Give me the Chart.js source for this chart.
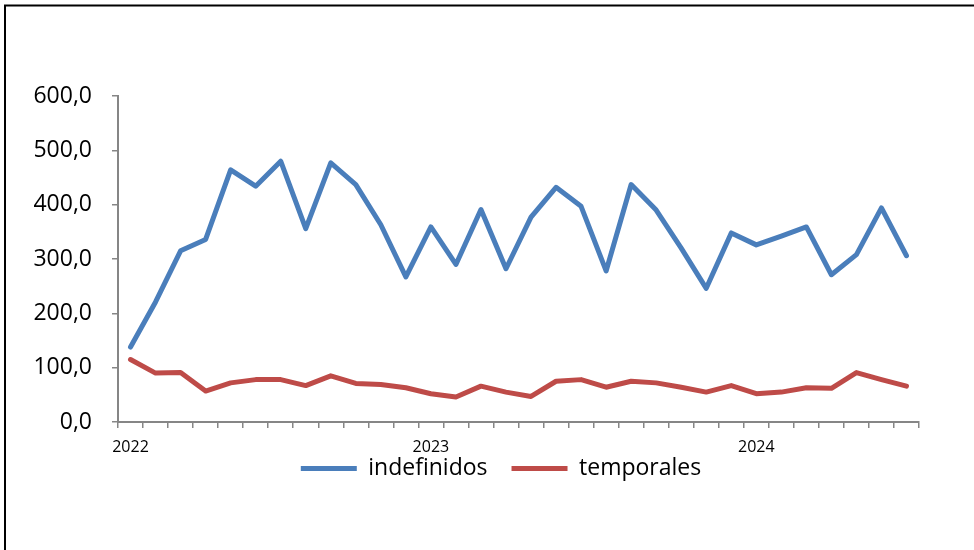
<!DOCTYPE html>
<html>
<head>
<meta charset="utf-8">
<script src="https://cdn.jsdelivr.net/npm/chart.js@4.4.1/dist/chart.umd.min.js"></script>
<style>
  html, body { margin: 0; padding: 0; background: #fff; }
</style>
</head>
<body>
<canvas id="chart" width="974" height="550"></canvas>
<script>
const months = [
  "ene 2022", "feb 2022", "mar 2022", "abr 2022", "may 2022", "jun 2022",
  "jul 2022", "ago 2022", "sep 2022", "oct 2022", "nov 2022", "dic 2022",
  "ene 2023", "feb 2023", "mar 2023", "abr 2023", "may 2023", "jun 2023",
  "jul 2023", "ago 2023", "sep 2023", "oct 2023", "nov 2023", "dic 2023",
  "ene 2024", "feb 2024", "mar 2024", "abr 2024", "may 2024", "jun 2024",
  "jul 2024", "ago 2024",
];

// only a few categories carry a visible year label
const xTickLabels = [
  "2022", "", "", "", "", "", "", "", "", "", "", "",
  "2023", "", "", "", "", "", "", "", "", "", "", "",
  "", "2024", "", "", "", "", "", "",
];

const yTickLabels = ["0,0", "100,0", "200,0", "300,0", "400,0", "500,0", "600,0"];

const indefinidos = [
  138, 221, 315, 336, 464, 434, 480, 356, 477, 437, 363, 267,
  359, 290, 391, 282, 377, 432, 397, 278, 437, 390, 320, 246,
  348, 326, 342, 359, 271, 308, 394, 306,
];

const temporales = [
  115, 90, 91, 57, 72, 78, 78, 67, 85, 71, 69, 63,
  52, 46, 66, 55, 47, 75, 78, 64, 75, 72, 64, 55,
  67, 52, 55, 63, 62, 91, 78, 66,
];

const axisGrey = "#868686";

// black frame on the top and left edge, like the pasted picture
const frame = {
  id: "frame",
  afterDraw(chart) {
    const c = chart.ctx;
    c.save();
    c.strokeStyle = "#000";
    c.lineWidth = 2;
    c.beginPath();
    c.moveTo(5, 550);
    c.lineTo(5, 5.5);
    c.lineTo(974, 5.5);
    c.stroke();
    c.restore();
  },
};

new Chart(document.getElementById("chart"), {
  type: "line",
  data: {
    labels: months,
    datasets: [
      {
        label: "indefinidos",
        data: indefinidos,
        borderColor: "#4A7EBB",
        backgroundColor: "#4A7EBB",
        borderWidth: 5,
        pointRadius: 0,
        tension: 0,
        borderCapStyle: "round",
        borderJoinStyle: "round",
      },
      {
        label: "temporales",
        data: temporales,
        borderColor: "#BE4B48",
        backgroundColor: "#BE4B48",
        borderWidth: 5,
        pointRadius: 0,
        tension: 0,
        borderCapStyle: "round",
        borderJoinStyle: "round",
      },
    ],
  },
  options: {
    responsive: false,
    animation: false,
    layout: {
      padding: { top: 96, right: 0, bottom: 60, left: 28 },
    },
    plugins: {
      tooltip: { enabled: false },
      legend: {
        position: "bottom",
        labels: {
          usePointStyle: true,
          pointStyle: "line",
          pointStyleWidth: 56,
          padding: 24,
          color: "#000",
          font: { family: "Open Sans", size: 23 },
        },
      },
    },
    scales: {
      x: {
        offset: true,
        grid: {
          offset: true,
          drawOnChartArea: false,
          color: axisGrey,
          lineWidth: 1.5,
          tickLength: 6,
        },
        border: { color: axisGrey, width: 2 },
        ticks: {
          autoSkip: false,
          maxRotation: 0,
          // mirrored with a negative padding so the year labels are not clipped
          mirror: true,
          padding: -35,
          color: "#000",
          font: { family: "Open Sans", size: 16 },
          callback: (v, i) => xTickLabels[i],
        },
        afterFit: (s) => { s.height = 11; },
      },
      y: {
        min: 0,
        max: 600,
        grid: {
          drawOnChartArea: false,
          color: axisGrey,
          lineWidth: 1.5,
          tickLength: 6,
        },
        border: { color: axisGrey, width: 2 },
        ticks: {
          stepSize: 100,
          padding: 20,
          color: "#000",
          font: { family: "Open Sans", size: 23 },
          callback: (v, i) => yTickLabels[i],
        },
        afterFit: (s) => { s.width = 90; },
      },
      // empty right axis, only keeps the plot clear of the right edge
      yRight: {
        position: "right",
        grid: { display: false },
        border: { display: false },
        ticks: { display: false },
        afterFit: (s) => { s.width = 55; },
      },
    },
  },
  plugins: [frame],
});
</script>
</body>
</html>
